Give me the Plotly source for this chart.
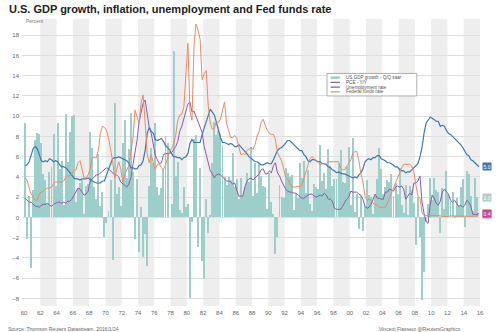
import plotly.graph_objects as go

# Quarterly data, 1960Q1 onwards
start_year = 1960
gdp = [9.3, -2.1, 2.1, -5.0, 2.7, 7.6, 8.3, 8.2, 7.4, 4.3, 3.7, 1.3, 4.5, 5.0, 8.2, 3.1,
       9.3, 4.8, 5.6, 1.2, 10.2, 5.5, 8.4, 10.0, 10.1, 1.5, 2.8, 3.4, 3.7, 0.3, 3.1, 3.3,
       8.4, 6.9, 3.0, 1.8, 6.3, 1.1, 2.5, -1.9, -0.6, 0.6, 3.7, -4.2, 11.3, 2.3, 3.0, 1.1,
       7.4, 9.6, 3.9, 6.8, 10.3, 4.5, -2.1, 3.8, -3.4, 1.0, -3.9, -1.6, -4.8, 3.1, 6.9, 5.4,
       9.3, 3.0, 2.2, 2.9, 4.8, 8.0, 7.4, 0.0, 1.3, 16.4, 4.1, 5.5, 0.7, 0.4, 3.0, 1.0,
       1.3, -8.0, -0.5, 7.7, 8.1, -2.9, 4.9, -4.3, -6.1, 1.8, -1.5, 0.2, 5.4, 9.4, 8.1, 8.5,
       8.2, 7.2, 4.0, 3.2, 4.0, 3.7, 6.4, 3.0, 3.8, 1.8, 3.9, 2.2, 3.0, 4.4, 3.5, 7.0,
       2.1, 5.4, 2.4, 5.4, 4.1, 3.1, 3.0, 0.8, 4.4, 1.5, 0.3, -3.6, -1.9, 3.2, 2.0, 1.9,
       4.9, 4.4, 4.0, 4.2, 0.7, 2.3, 1.9, 5.4, 3.9, 5.6, 2.4, 4.7, 1.3, 0.6, 3.3, 3.0,
       2.8, 7.2, 3.6, 4.4, 2.8, 6.8, 5.1, 3.1, 3.8, 3.8, 5.3, 6.7, 3.5, 3.4, 5.1, 7.0,
       1.2, 7.8, 0.5, 2.3, -1.1, 2.1, -1.3, 1.1, 3.7, 2.2, 2.0, 0.3, 2.1, 3.8, 6.9, 4.8,
       2.3, 3.0, 3.7, 3.5, 4.3, 2.1, 3.4, 2.3, 4.9, 1.2, 0.4, 3.2, 0.2, 3.1, 2.7, 1.4,
       -2.7, 2.0, -1.9, -8.2, -5.4, -0.5, 1.3, 3.9, 1.7, 3.9, 2.7, 2.5, -1.5, 2.9, 0.8, 4.6,
       2.3, 1.6, 2.5, 0.1, 1.9, 1.1, 3.0, 3.8, -0.9, 4.6, 4.3, 2.1, 0.6, 3.9, 2.0]

pce = [1.9, 1.7, 1.5, 1.5, 1.3, 1.1, 1.1, 1.0, 1.2, 1.3, 1.3, 1.4, 1.2, 1.1, 1.3, 1.4,
       1.5, 1.5, 1.4, 1.5, 1.4, 1.6, 1.6, 1.8, 2.2, 2.6, 2.9, 2.8, 2.5, 2.2, 2.3, 2.6,
       3.6, 3.8, 4.0, 4.2, 4.2, 4.4, 4.6, 4.7, 4.9, 4.8, 4.6, 4.5, 4.2, 4.2, 4.0, 3.5,
       3.3, 3.1, 3.0, 3.3, 3.9, 5.2, 6.3, 7.6, 9.4, 10.5, 11.3, 11.6, 10.2, 8.9, 8.3, 7.2,
       6.1, 5.7, 5.3, 5.4, 6.2, 6.3, 6.3, 6.3, 6.4, 6.7, 7.0, 7.5, 8.5, 9.0, 9.8, 10.5,
       11.2, 11.4, 10.4, 10.5, 10.0, 9.4, 9.0, 8.4, 7.0, 6.1, 5.4, 4.6, 4.3, 3.9, 4.2, 4.3,
       4.2, 4.0, 3.9, 3.6, 3.6, 3.5, 3.3, 3.4, 2.7, 2.1, 2.1, 2.1, 3.0, 3.6, 3.8, 3.9,
       3.7, 3.9, 4.2, 4.3, 4.7, 4.8, 4.3, 4.3, 4.6, 4.4, 5.1, 5.4, 4.4, 4.1, 3.6, 3.1,
       2.8, 2.6, 2.5, 2.5, 2.4, 2.4, 2.2, 2.1, 1.9, 1.9, 2.1, 2.2, 2.3, 2.3, 2.1, 2.0,
       2.1, 2.2, 2.1, 2.4, 2.2, 1.8, 1.8, 1.6, 0.9, 0.8, 0.8, 0.8, 1.1, 1.5, 1.8, 2.0,
       2.6, 2.5, 2.5, 2.5, 2.3, 2.2, 1.8, 1.1, 0.9, 1.0, 1.3, 1.8, 2.3, 1.9, 1.9, 1.8,
       1.8, 2.5, 2.5, 2.8, 2.7, 2.6, 3.0, 3.1, 3.0, 3.1, 2.8, 1.8, 2.1, 2.4, 2.2, 3.4,
       3.4, 3.6, 4.1, 1.5, 0.4, -0.4, -0.6, 1.2, 2.2, 1.9, 1.4, 1.2, 1.6, 2.5, 2.8, 2.6,
       2.3, 1.7, 1.5, 1.7, 1.4, 1.1, 1.2, 1.0, 1.2, 1.7, 1.5, 1.1, 0.3, 0.3, 0.3, 0.4]

unemp = [5.1, 5.2, 5.5, 6.3, 6.8, 7.0, 6.8, 6.2, 5.6, 5.5, 5.6, 5.5, 5.8, 5.7, 5.5, 5.6,
         5.5, 5.2, 5.0, 5.0, 4.9, 4.7, 4.4, 4.2, 3.9, 3.8, 3.8, 3.7, 3.8, 3.8, 3.8, 3.9,
         3.7, 3.6, 3.5, 3.4, 3.4, 3.4, 3.6, 3.6, 4.2, 4.8, 5.2, 5.8, 5.9, 5.9, 6.0, 5.9,
         5.8, 5.7, 5.6, 5.4, 4.9, 4.9, 4.8, 4.8, 5.1, 5.2, 5.6, 6.6, 8.3, 8.9, 8.5, 8.3,
         7.7, 7.6, 7.7, 7.8, 7.5, 7.1, 6.9, 6.7, 6.3, 6.0, 6.0, 5.9, 5.9, 5.7, 5.9, 6.0,
         6.3, 7.3, 7.7, 7.4, 7.4, 7.4, 7.4, 8.2, 8.8, 9.4, 9.9, 10.7, 10.4, 10.1, 9.4, 8.5,
         7.9, 7.4, 7.4, 7.3, 7.2, 7.3, 7.2, 7.0, 7.0, 7.2, 7.0, 6.8, 6.6, 6.3, 6.0, 5.8,
         5.7, 5.5, 5.5, 5.3, 5.2, 5.2, 5.3, 5.4, 5.3, 5.3, 5.7, 6.1, 6.6, 6.8, 6.9, 7.1,
         7.4, 7.6, 7.6, 7.4, 7.2, 7.1, 6.8, 6.6, 6.6, 6.2, 6.0, 5.6, 5.5, 5.7, 5.7, 5.6,
         5.5, 5.5, 5.3, 5.3, 5.2, 5.0, 4.9, 4.7, 4.6, 4.4, 4.5, 4.4, 4.3, 4.3, 4.2, 4.1,
         4.0, 3.9, 4.0, 3.9, 4.2, 4.4, 4.8, 5.5, 5.7, 5.8, 5.7, 5.9, 5.9, 6.1, 6.1, 5.8,
         5.7, 5.6, 5.4, 5.4, 5.3, 5.1, 5.0, 5.0, 4.7, 4.6, 4.6, 4.4, 4.5, 4.5, 4.7, 4.8,
         5.0, 5.3, 6.0, 6.9, 8.3, 9.3, 9.6, 9.9, 9.8, 9.6, 9.5, 9.5, 9.0, 9.1, 9.0, 8.6,
         8.3, 8.2, 8.0, 7.8, 7.7, 7.5, 7.2, 6.9, 6.6, 6.2, 6.1, 5.7, 5.6, 5.4, 5.1, 5.0]

fedfunds = [3.9, 3.7, 2.9, 2.3, 2.0, 1.7, 1.7, 2.3, 2.5, 2.6, 2.8, 2.9, 2.9, 3.0, 3.3, 3.5,
            3.5, 3.5, 3.5, 3.6, 4.0, 4.1, 4.1, 4.3, 4.6, 4.7, 5.4, 5.6, 4.8, 3.9, 3.9, 4.2,
            4.8, 5.9, 5.9, 5.9, 6.6, 8.3, 9.0, 8.9, 8.6, 7.9, 6.7, 5.6, 3.9, 4.6, 5.5, 4.8,
            3.5, 4.3, 4.7, 5.1, 6.5, 7.8, 10.6, 10.0, 9.3, 11.3, 12.1, 9.4, 6.3, 5.4, 6.2, 5.4,
            4.8, 5.2, 5.3, 4.9, 4.7, 5.2, 5.8, 6.5, 6.8, 7.3, 8.1, 9.6, 10.1, 10.2, 10.9, 13.6,
            17.2, 10.5, 9.6, 17.0, 19.1, 18.5, 17.6, 13.6, 14.2, 14.5, 11.0, 9.3, 8.7, 8.8, 9.5, 9.4,
            9.7, 10.6, 11.4, 9.3, 8.5, 7.9, 7.9, 8.1, 7.8, 6.9, 6.2, 6.3, 6.2, 6.6, 6.8, 6.9,
            6.7, 7.2, 8.0, 8.5, 9.4, 9.7, 9.1, 8.6, 8.3, 8.2, 8.2, 7.7, 6.4, 5.9, 5.6, 4.8,
            4.0, 3.8, 3.3, 3.0, 3.0, 3.0, 3.1, 3.0, 3.2, 4.0, 4.5, 5.2, 5.8, 6.0, 5.8, 5.7,
            5.4, 5.2, 5.3, 5.3, 5.3, 5.5, 5.5, 5.5, 5.5, 5.5, 5.5, 4.9, 4.7, 4.7, 5.1, 5.3,
            5.7, 6.3, 6.5, 6.5, 5.6, 4.3, 3.5, 2.1, 1.7, 1.8, 1.7, 1.4, 1.3, 1.2, 1.0, 1.0,
            1.0, 1.0, 1.4, 1.9, 2.5, 2.9, 3.4, 4.0, 4.5, 4.9, 5.25, 5.25, 5.26, 5.25, 5.07, 4.5,
            3.2, 2.1, 1.9, 0.5, 0.18, 0.18, 0.16, 0.12, 0.13, 0.19, 0.19, 0.19, 0.16, 0.09, 0.08, 0.07,
            0.10, 0.15, 0.14, 0.16, 0.14, 0.12, 0.08, 0.09, 0.07, 0.09, 0.09, 0.10, 0.11, 0.13, 0.14, 0.24]

tick_years = list(range(1960, 2017, 2))
tick_labels = ["60", "62", "64", "66", "68", "70", "72", "74", "76", "78", "80", "82", "84", "86",
               "88", "90", "92", "94", "96", "98", "00", "02", "04", "06", "08", "10", "12", "14", "16"]
y_ticks = list(range(-8, 19, 2))

def qx(n):
    return [start_year + i * 0.25 + 0.125 for i in range(n)]

C_GDP = "#9ccfc9"
C_PCE = "#8b5aa8"
C_UN = "#3b78b4"
C_FF = "#ea8a66"

fig = go.Figure()
fig.add_trace(go.Bar(x=qx(len(gdp)), y=gdp, width=0.12, marker=dict(color=C_GDP, line=dict(width=0)),
                     name="US GDP growth - Q/Q saar"))
fig.add_trace(go.Scatter(x=qx(len(pce)), y=pce, mode="lines", line=dict(color=C_PCE, width=1), name="PCE - Y/Y"))
fig.add_trace(go.Scatter(x=qx(len(unemp)), y=unemp, mode="lines", line=dict(color=C_UN, width=1.2), name="Unemployment rate"))
fig.add_trace(go.Scatter(x=qx(len(fedfunds)), y=fedfunds, mode="lines", line=dict(color=C_FF, width=1), name="Federal funds rate"))

shapes = []
for y0 in range(1962, 2016, 4):
    shapes.append(dict(type="rect", xref="x", yref="paper", x0=y0, x1=y0 + 2, y0=0, y1=1,
                       fillcolor="#eeeeee", line=dict(width=0), layer="below"))

# manual legend box
lx0, lx1, ly0, ly1 = 333 / 500, 431 / 500, 1 - 63 / 332, 1 - 89 / 332
shapes.append(dict(type="rect", xref="paper", yref="paper", x0=lx0, x1=lx1, y0=ly1, y1=ly0,
                   fillcolor="white", line=dict(color="#9a9a9a", width=0.8)))
leg_items = [("US GDP growth - Q/Q saar", C_GDP, "bar"), ("PCE - Y/Y", C_PCE, "line"),
             ("Unemployment rate", C_UN, "line"), ("Federal funds rate", C_FF, "line")]
annotations = []
for i, (txt, col, kind) in enumerate(leg_items):
    yy = 1 - (67.8 + i * 5.5) / 332
    if kind == "bar":
        shapes.append(dict(type="rect", xref="paper", yref="paper", x0=337 / 500, x1=347 / 500,
                           y0=yy - 1.5 / 332, y1=yy + 1.5 / 332, fillcolor=col, line=dict(width=0)))
    else:
        shapes.append(dict(type="line", xref="paper", yref="paper", x0=337 / 500, x1=347 / 500,
                           y0=yy, y1=yy, line=dict(color=col, width=1.2)))
    annotations.append(dict(xref="paper", yref="paper", x=351 / 500, y=yy, text=txt, showarrow=False,
                            xanchor="left", yanchor="middle", font=dict(size=4.6, color="#555")))

fig_w, fig_h = 500, 332
ml, mr, mt, mb = 18, 20, 19, 26

annotations += [
    dict(xref="paper", yref="paper", x=-(ml - 3) / (fig_w - ml - mr), y=1 + (mt - 9) / (fig_h - mt - mb),
         text="<b>U.S. GDP growth, inflation, unemployment and Fed funds rate</b>", showarrow=False,
         xanchor="left", yanchor="middle", font=dict(size=11, color="#222", family="Liberation Sans")),
    dict(xref="paper", yref="paper", x=(20 - ml) / (fig_w - ml - mr), y=1 - (21 - mt) / (fig_h - mt - mb),
         text="Percent", showarrow=False, xanchor="left", yanchor="middle", font=dict(size=5, color="#777")),
    dict(xref="paper", yref="paper", x=(2 - ml) / (fig_w - ml - mr), y=-(328.5 - (fig_h - mb)) / (fig_h - mt - mb),
         text="Source: Thomson Reuters Datastream, 2016/1/24", showarrow=False, xanchor="left", yanchor="middle",
         font=dict(size=5, color="#666")),
    dict(xref="paper", yref="paper", x=(463 - ml) / (fig_w - ml - mr), y=-(329 - (fig_h - mb)) / (fig_h - mt - mb),
         text="Vincent Flasseur @ReutersGraphics", showarrow=False, xanchor="right", yanchor="middle",
         font=dict(size=5, color="#666")),
]
# end-value labels
for val, col, fcol in [(unemp[-1], C_UN, "white"), (gdp[-1], "#a9cfca", "white"),
                       (fedfunds[-1], "#e38aa0", "white"), (pce[-1], "#c0479a", "white")]:
    annotations.append(dict(xref="paper", yref="y", x=1, xshift=2, y=val, text=f"{val:.1f}", showarrow=False,
                            xanchor="left", yanchor="middle", bgcolor=col, borderpad=0.5,
                            font=dict(size=5, color=fcol)))

fig.update_layout(
    width=fig_w, height=fig_h, margin=dict(l=ml, r=mr, t=mt, b=mb),
    paper_bgcolor="white", plot_bgcolor="white", showlegend=False, bargap=0,
    font=dict(family="Liberation Sans", size=6, color="#666"),
    xaxis=dict(range=[1959.75, 2016.0], tickvals=tick_years, ticktext=tick_labels, showgrid=False,
               zeroline=False, ticks="", tickfont=dict(size=6, color="#666"), ticklabelstandoff=2),
    yaxis=dict(range=[-8.75, 19.6], tickvals=y_ticks, showgrid=True, gridcolor="#dedede", gridwidth=0.6,
               zeroline=False, ticks="", tickfont=dict(size=6, color="#666"), ticklabelstandoff=2),
    shapes=shapes, annotations=annotations,
)
fig.write_html("out.html")
